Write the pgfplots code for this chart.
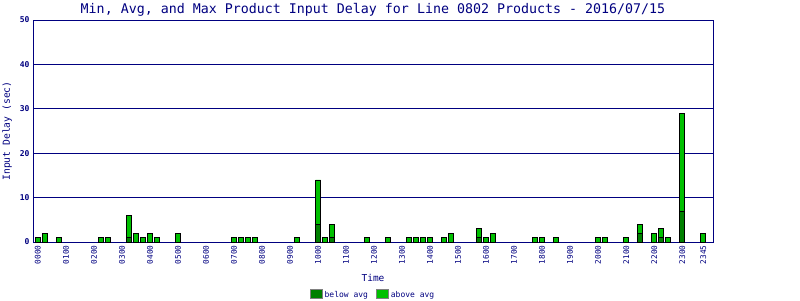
\documentclass[border=0pt]{standalone}
\usepackage{pgfplots}
\pgfplotsset{compat=1.18}
\usepackage{pgfplotstable}
\usepackage{fontspec}
\setmainfont{DejaVu Sans Mono}
\definecolor{navy}{RGB}{0,0,128}
\definecolor{darkg}{RGB}{0,128,0}
\definecolor{lightg}{RGB}{0,192,0}
\pgfplotstableread{
x below above
0 0 1
1 0 2
3 0 1
9 0 1
10 0 1
13 1 5
14 0 2
15 0 1
16 0 2
17 0 1
20 0 2
28 0 1
29 0 1
30 0 1
31 0 1
37 0 1
40 4 10
41 0 1
42 1 3
47 0 1
50 0 1
53 0 1
54 0 1
55 0 1
56 0 1
58 0 1
59 0 2
63 1 2
64 0 1
65 0 2
71 0 1
72 0 1
74 0 1
80 0 1
81 0 1
84 0 1
86 2 2
88 0 2
89 1 2
90 0 1
92 7 22
95 0 2
}\data
\begin{document}
\begin{tikzpicture}
\begin{axis}[
  name=ax,
  at={(0,0)}, anchor=south west,
  scale only axis, width=680pt, height=222pt,
  ybar stacked, bar width=5pt,
  xmin=-0.7, xmax=96.4, ymin=0, ymax=50,
  xtick={0,4,8,12,16,20,24,28,32,36,40,44,48,52,56,60,64,68,72,76,80,84,88,92,95},
  xticklabels={0000,0100,0200,0300,0400,0500,0600,0700,0800,0900,1000,1100,1200,1300,1400,1500,1600,1700,1800,1900,2000,2100,2200,2300,2345},
  ytick={0,10,20,30,40,50},
  major tick length=0pt,
  /pgf/number format/assume math mode=true,
  xticklabel style={rotate=90, anchor=east, font=\fontsize{7.8}{8}\selectfont, text=navy},
  yticklabel style={font=\fontsize{8}{9}\selectfont\bfseries, text=navy},
  ymajorgrids, major grid style={draw=navy, line width=0.9pt},
  axis line style={navy, line width=0.9pt},
  xlabel={Time},
  xlabel style={font=\fontsize{9.5}{10}\selectfont, text=navy, at={(axis description cs:0.5,-0.162)}, anchor=center},
  ylabel={Input Delay (sec)},
  ylabel style={font=\fontsize{9.7}{10}\selectfont, text=navy, at={(axis description cs:-0.038,0.5)}, anchor=center, rotate=0},
  legend style={at={(axis description cs:0.5,-0.239)}, anchor=center, draw=none, fill=none,
    legend columns=2, font=\fontsize{8}{9}\selectfont, text=navy,
    /tikz/every even column/.append style={column sep=6pt}},
]
\addplot[fill=darkg, draw=black, line width=0.6pt, forget plot] table[x=x, y=below] {\data};
\addplot[fill=lightg, draw=black, line width=0.6pt, forget plot] table[x=x, y=above] {\data};
\addlegendimage{legend image code/.code={\draw[fill=darkg, draw=gray, line width=0.9pt] (0pt,-3.5pt) rectangle (12pt,5.5pt);}}
\addlegendimage{legend image code/.code={\draw[fill=lightg, draw=gray, line width=0.9pt] (0pt,-3.5pt) rectangle (12pt,5.5pt);}}
\legend{below avg, above avg}
\end{axis}
\node[font=\fontsize{13.3}{14}\selectfont, text=navy, anchor=base, inner sep=0pt] at ([yshift=7pt]ax.north) {Min, Avg, and Max Product Input Delay for Line 0802 Products - 2016/07/15};
\pgfresetboundingbox
\path[use as bounding box] (-33pt,-58pt) rectangle (767pt,242pt);
\end{tikzpicture}
\end{document}
